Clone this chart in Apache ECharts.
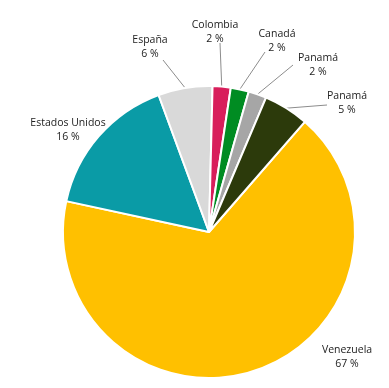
<!DOCTYPE html>
<html>
<head>
<meta charset="utf-8">
<script src="https://cdn.jsdelivr.net/npm/echarts@6/dist/echarts.min.js"></script>
<style>
html,body{margin:0;padding:0;background:#fff;}
#chart{width:389px;height:388px;}
</style>
</head>
<body>
<div id="chart"></div>
<script>
// Data
const categories = ['Venezuela', 'Estados Unidos', 'España', 'Colombia', 'Canadá', 'Panamá', 'Panamá'];
const values = [67, 16, 6, 2, 2, 2, 5];
const colors = ['#FFC000', '#0A9BA6', '#D9D9D9', '#D81E5B', '#008C22', '#A6A6A6', '#2C3A0B'];

// Layout (label centres and leader line outer ends, in px)
const labelPos = [[347, 357], [68, 130], [150, 47], [215, 32], [277, 41], [318, 65], [347, 103]];
const lineEnds = [null, null, [163, 60], [220, 43], [265, 52], [293, 65], [327, 105]];
const CX = 209, CY = 232, R = 146, START = 49;

const total = values.reduce((a, b) => a + b, 0);
function edgePoint(i) {
  let cum = 0;
  for (let k = 0; k < i; k++) cum += values[k];
  const a = (START - 360 * (cum + values[i] / 2) / total) * Math.PI / 180;
  return [CX + R * Math.cos(a), CY - R * Math.sin(a)];
}

const chart = echarts.init(document.getElementById('chart'), null, {renderer: 'canvas'});
chart.setOption({
  animation: false,
  series: [{
    type: 'pie',
    center: [CX, CY],
    radius: [0, R],
    startAngle: START,
    clockwise: true,
    avoidLabelOverlap: false,
    itemStyle: {borderColor: '#ffffff', borderWidth: 2},
    label: {
      show: true,
      position: 'outside',
      formatter: p => p.name + '\n' + p.value + ' %',
      fontFamily: 'Open Sans',
      fontSize: 10.5,
      lineHeight: 14,
      color: '#222222',
      align: 'center'
    },
    labelLine: {show: true, lineStyle: {color: '#8C8C8C', width: 1}},
    labelLayout: function (params) {
      const i = params.dataIndex;
      const res = {x: labelPos[i][0], y: labelPos[i][1], align: 'center', verticalAlign: 'middle'};
      if (lineEnds[i]) {
        const p0 = edgePoint(i);
        res.labelLinePoints = [p0, lineEnds[i], lineEnds[i]];
      }
      return res;
    },
    data: categories.map((c, i) => ({
      name: c,
      value: values[i],
      itemStyle: {color: colors[i]},
      labelLine: {show: !!lineEnds[i]}
    }))
  }]
});
</script>
</body>
</html>
